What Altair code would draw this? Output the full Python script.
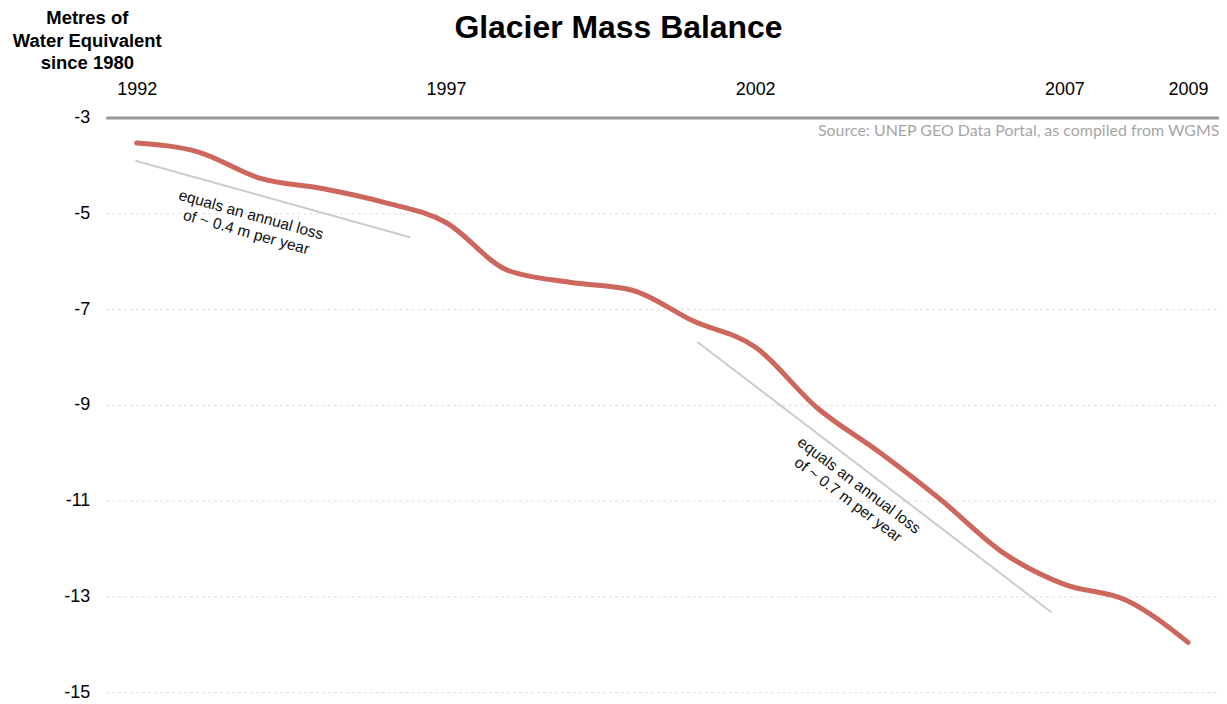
import altair as alt
import pandas as pd

# Data
years = list(range(1992, 2010))
mass_balance = [-3.53, -3.72, -4.27, -4.48, -4.77, -5.19, -6.19, -6.44, -6.60,
                -7.25, -7.79, -9.06, -9.98, -10.98, -12.08, -12.75, -13.08, -13.96]

x_ticks = [1992, 1997, 2002, 2007, 2009]
y_ticks = [-3, -5, -7, -9, -11, -13, -15]

trend_x1 = [1991.98, 2001.06]
trend_y1 = [-3.90, -7.68]
trend_x2 = [1996.42, 2006.79]
trend_y2 = [-5.50, -13.33]

note_x = [1993.85, 2003.68]
note_y = [-5.03, -10.68]
note_angle = [15.6, 37.0]
note_text = ["equals an annual loss\nof ~ 0.4 m per year",
             "equals an annual loss\nof ~ 0.7 m per year"]

df = pd.DataFrame({"year": years, "value": mass_balance})
trend_df = pd.DataFrame({"x1": trend_x1, "y1": trend_y1, "x2": trend_x2, "y2": trend_y2})
note_df = pd.DataFrame({"x": note_x, "y": note_y, "angle": note_angle, "text": note_text})

FONT = "Liberation Sans"

x_scale = alt.Scale(domain=[1991.5, 2009.5], nice=False, zero=False)
y_scale = alt.Scale(domain=[-15, -3], nice=False, zero=False)

x_axis = alt.Axis(
    orient="top", values=x_ticks, labelExpr="'' + datum.value", grid=False, ticks=False,
    domain=True, domainColor="#999999", domainWidth=3,
    labelFont=FONT, labelFontSize=18, labelColor="#000000", labelPadding=19,
    title="Source: UNEP GEO Data Portal, as compiled from WGMS",
    titleFont="Lato", titleFontSize=16, titleFontWeight="normal", titleColor="#a6a6a6",
    titleAlign="right", titleBaseline="alphabetic", titleAngle=0,
    titleX=1116, titleY=18,
)
y_axis = alt.Axis(
    values=y_ticks, labelExpr="'' + datum.value",
    grid=True, gridColor="#dddddd", gridDash=[3, 3], gridWidth=1,
    domain=False, ticks=False,
    labelFont=FONT, labelFontSize=18, labelColor="#000000", labelPadding=16,
    title=["Metres of", "Water Equivalent", "since 1980"],
    titleFont=FONT, titleFontSize=18.5, titleFontWeight="bold", titleColor="#000000",
    titleAngle=0, titleAlign="center", titleBaseline="alphabetic",
    titleX=-19, titleY=-94, titleLineHeight=22.5,
)

line = alt.Chart(df).mark_line(
    color="#CD665C", strokeWidth=5, strokeCap="round", interpolate="monotone"
).encode(
    x=alt.X("year:Q", scale=x_scale, axis=x_axis),
    y=alt.Y("value:Q", scale=y_scale, axis=y_axis),
)

trends = alt.Chart(trend_df).mark_rule(color="#cccccc", strokeWidth=2).encode(
    x=alt.X("x1:Q", scale=x_scale),
    y=alt.Y("y1:Q", scale=y_scale),
    x2="x2:Q",
    y2="y2:Q",
)

notes = alt.Chart(note_df).mark_text(
    font=FONT, fontSize=15.5, color="#111111", align="center", baseline="middle",
    lineBreak="\n", lineHeight=18,
).encode(
    x=alt.X("x:Q", scale=x_scale),
    y=alt.Y("y:Q", scale=y_scale),
    angle=alt.Angle("angle:Q", scale=None),
    text="text:N",
)

chart = alt.layer(trends, line, notes).properties(
    width=1116,
    height=576,
    padding={"left": 98, "top": 109, "right": 0, "bottom": 10},
    autosize=alt.AutoSizeParams(type="none"),
    title=alt.TitleParams(
        "Glacier Mass Balance", font=FONT, fontSize=32, fontWeight="bold",
        color="#000000", anchor="middle", frame="group", dx=-44, dy=40,
    ),
).configure_view(stroke=None)

chart.save("out.html", embed_options={"renderer": "svg", "actions": False})
